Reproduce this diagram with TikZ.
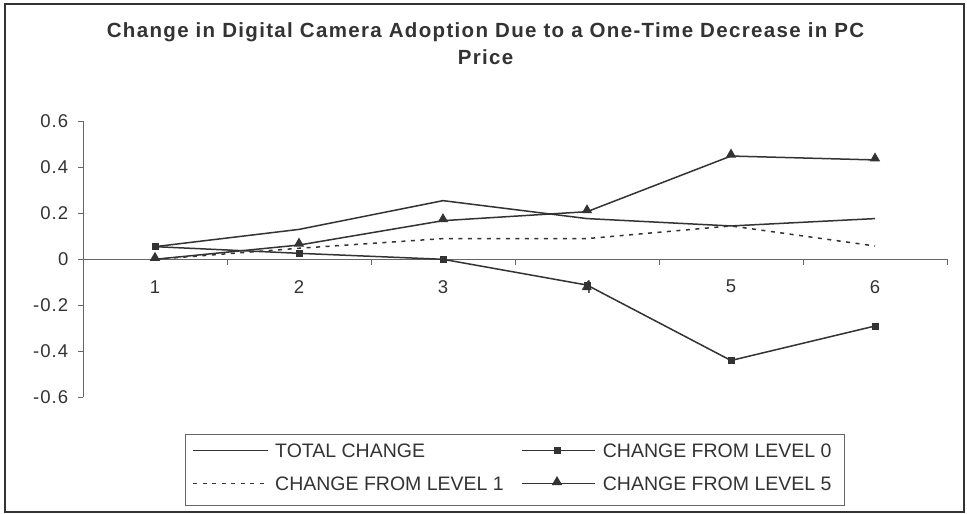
\documentclass[tikz,border=0pt]{standalone}
\usepackage{fontspec}
\setmainfont{Liberation Sans}
\usetikzlibrary{shapes.geometric}
\definecolor{ink}{HTML}{333333}
\definecolor{axisc}{HTML}{666666}
\newcommand{\yv}[1]{\fpeval{#1*230-259.3}}
\tikzset{
  every node/.style={text=ink},
  frame/.style={draw=ink, line width=2pt},
  axisline/.style={draw=axisc, line width=1pt},
  tickline/.style={draw=axisc, line width=0.9pt},
  series/.style={draw=ink, line width=1.5pt, line join=round},
  dotseries/.style={draw=ink, line width=1.5pt, dash pattern=on 4pt off 5.5pt},
  sqmark/.style={draw=none, fill=ink, minimum size=7pt, inner sep=0pt, rectangle},
  trimark/.style={draw=none, fill=ink, regular polygon, regular polygon sides=3, minimum size=12pt, inner sep=0pt},
  ylab/.style={anchor=east, font=\addfontfeature{LetterSpace=6}\fontsize{18.5}{20}\selectfont, inner sep=0pt},
  xlab/.style={anchor=center, font=\fontsize{18.5}{20}\selectfont, inner sep=0pt},
  legtext/.style={anchor=west, font=\fontsize{19.5}{21}\selectfont, inner sep=0pt},
  titletext/.style={anchor=base, font=\addfontfeature{LetterSpace=6.5}\bfseries\fontsize{20.5}{24}\selectfont, inner sep=0pt},
  legbox/.style={draw=axisc, line width=1pt}
}
\begin{document}
\begin{tikzpicture}[x=1pt,y=1pt]
\useasboundingbox (0,0) rectangle (967,-514);
\fill[white] (0,0) rectangle (967,-514);
\draw[frame] (4.5,-3.5) rectangle (963.5,-512);
% title
\node[titletext] (t1) at (485.5,-37.3) {Change in Digital Camera Adoption Due to a One-Time Decrease in PC};
\node[titletext] (t2) at (485.5,-64) {Price};
% axes
\coordinate (ytop) at (83,{\yv{0.6}});
\coordinate (ybot) at (83,{\yv{-0.6}});
\coordinate (x0) at (83,{\yv{0}});
\coordinate (xend) at (947,{\yv{0}});
\draw[axisline] (ytop) -- (ybot);
\draw[axisline] (x0) -- (xend);
\foreach \v/\t in {0.6/0.6,0.4/0.4,0.2/0.2,0/0,-0.2/-0.2,-0.4/-0.4,-0.6/-0.6} {
  \coordinate (yt) at (83,{\yv{\v}});
  \draw[tickline] (yt) -- ++(-5.5,0);
  \node[ylab] at (68.5,{\yv{\v}}) {\t};
}
\foreach \k in {0,...,6} {
  \coordinate (xt) at ({83+144*\k},{\yv{0}});
  \draw[tickline] (xt) -- ++(0,-6);
}
\foreach \k in {1,...,6} {
  \node[xlab] (c\k) at ({83+144*\k-72},-286.7) {\k};
}
% data coordinates
\foreach \s/\vals in {T/{0.055,0.13,0.255,0.177,0.145,0.177},
                      A/{0.055,0.026,0.0,-0.112,-0.44,-0.29},
                      B/{0.0,0.048,0.09,0.09,0.145,0.058},
                      C/{0.0,0.062,0.168,0.207,0.449,0.432}} {
  \foreach \v [count=\i] in \vals {
    \coordinate (\s\i) at ({83+144*\i-72},{\yv{\v}});
  }
}
\draw[dotseries] (B1) -- (B2) -- (B3) -- (B4) -- (B5) -- (B6);
\draw[series] (T1) -- (T2) -- (T3) -- (T4) -- (T5) -- (T6);
\draw[series] (A1) -- (A2) -- (A3) -- (A4) -- (A5) -- (A6);
\draw[series] (C1) -- (C2) -- (C3) -- (C4) -- (C5) -- (C6);
\foreach \i in {1,...,6} {
  \node[sqmark] (mA\i) at (A\i) {};
  \node[trimark] (mC\i) at ([yshift=1.5pt]C\i) {};
}
% legend
\draw[legbox] (185.7,-434.3) rectangle (844,-505.7);
\coordinate (l1a) at (193,-450.7); \coordinate (l1b) at (268,-450.7);
\coordinate (l2a) at (193,-483.3); \coordinate (l2b) at (268,-483.3);
\coordinate (l3a) at (521.7,-450.7); \coordinate (l3b) at (595,-450.7);
\coordinate (l4a) at (521.7,-483.3); \coordinate (l4b) at (595,-483.3);
\draw[series] (l1a) -- (l1b);
\draw[dotseries] (l2a) -- (l2b);
\draw[series] (l3a) -- (l3b);
\draw[series] (l4a) -- (l4b);
\node[sqmark] (lm3) at (557,-450.7) {};
\node[trimark] (lm4) at (557,-482) {};
\node[legtext] (lt1) at (275,-450.3) {TOTAL CHANGE};
\node[legtext] (lt2) at (275,-483.8) {CHANGE FROM LEVEL 1};
\node[legtext] (lt3) at (602.7,-450.3) {CHANGE FROM LEVEL 0};
\node[legtext] (lt4) at (602.7,-483.8) {CHANGE FROM LEVEL 5};
\end{tikzpicture}
\end{document}
